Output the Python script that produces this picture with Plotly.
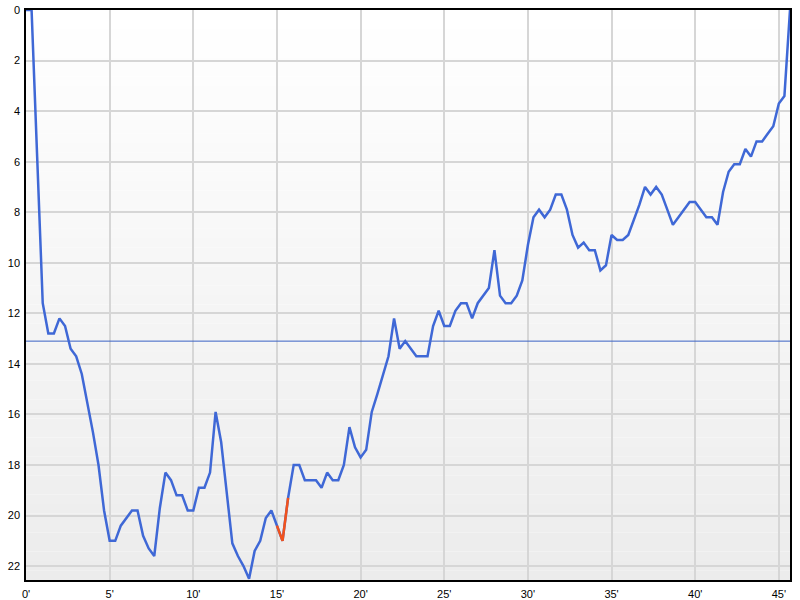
import plotly.graph_objects as go

# ---- data (one sample every 20 seconds, minutes) ----
values = [
    0, 0, 5.8, 11.6, 12.8, 12.8, 12.2, 12.5, 13.4, 13.7,
    14.4, 15.5, 16.7, 18.0, 19.8, 21.0, 21.0, 20.4, 20.1, 19.8,
    19.8, 20.8, 21.3, 21.6, 19.7, 18.3, 18.6, 19.2, 19.2, 19.8,
    19.8, 18.9, 18.9, 18.3, 15.9, 17.1, 19.1, 21.1, 21.6, 22.0,
    22.5, 21.4, 21.0, 20.1, 19.8, 20.4, 21.0, 19.3, 18.0, 18.0,
    18.6, 18.6, 18.6, 18.9, 18.3, 18.6, 18.6, 18.0, 16.5, 17.3,
    17.7, 17.4, 15.9, 15.2, 14.4, 13.7, 12.2, 13.4, 13.1, 13.4,
    13.7, 13.7, 13.7, 12.5, 11.9, 12.5, 12.5, 11.9, 11.6, 11.6,
    12.2, 11.6, 11.3, 11.0, 9.5, 11.3, 11.6, 11.6, 11.3, 10.7,
    9.3, 8.2, 7.9, 8.2, 7.9, 7.3, 7.3, 7.9, 8.9, 9.4,
    9.2, 9.5, 9.5, 10.3, 10.1, 8.9, 9.1, 9.1, 8.9, 8.3,
    7.7, 7.0, 7.3, 7.0, 7.3, 7.9, 8.5, 8.2, 7.9, 7.6,
    7.6, 7.9, 8.2, 8.2, 8.5, 7.2, 6.4, 6.1, 6.1, 5.5,
    5.8, 5.2, 5.2, 4.9, 4.6, 3.7, 3.4, 0,
]
minutes = [k / 3 for k in range(len(values))]

highlight_start = 45   # index of first highlighted sample
highlight_end = 47     # index of last highlighted sample

reference_level = 13.1

x_ticks = [0, 5, 10, 15, 20, 25, 30, 35, 40, 45]
x_tick_labels = ["0'", "5'", "10'", "15'", "20'", "25'", "30'", "35'", "40'", "45'"]
y_ticks = [0, 2, 4, 6, 8, 10, 12, 14, 16, 18, 20, 22]
y_max = 22.55

BLUE = "#3f68d6"
RED = "#f2521c"

fig = go.Figure()

# background gradient (white -> light gray), drawn below gridlines
n_bands = 60
for i in range(n_bands):
    f = i / (n_bands - 1)
    c = round(255 - f * (255 - 236))
    fig.add_shape(
        type="rect", xref="paper", yref="paper",
        x0=0, x1=1, y0=1 - (i + 1) / n_bands, y1=1 - i / n_bands,
        fillcolor=f"rgb({c},{c},{c})", line=dict(width=0), layer="below",
    )

fig.add_trace(go.Scatter(
    x=[minutes[0], minutes[-1]], y=[reference_level, reference_level],
    mode="lines", line=dict(color="#3a62c4", width=1), hoverinfo="skip",
))

fig.add_trace(go.Scatter(
    x=minutes, y=values, mode="lines",
    line=dict(color=BLUE, width=2.5),
))

fig.add_trace(go.Scatter(
    x=minutes[highlight_start:highlight_end + 1],
    y=values[highlight_start:highlight_end + 1],
    mode="lines", line=dict(color=RED, width=2.5),
))

fig.update_layout(
    width=800, height=600,
    margin=dict(l=26, r=10, t=10, b=20),
    paper_bgcolor="white", plot_bgcolor="white",
    showlegend=False,
    font=dict(family="Liberation Sans, Arial, sans-serif", size=11, color="black"),
)
fig.update_xaxes(
    range=[0, minutes[-1]], tickvals=x_ticks, ticktext=x_tick_labels,
    showgrid=True, gridcolor="#d6d6d6", gridwidth=1.5,
    zeroline=False, showline=True, linecolor="black", linewidth=1.5, mirror=True,
    ticks="", ticklabelstandoff=3, automargin=False,
)
fig.update_yaxes(
    range=[y_max, 0], tickvals=y_ticks,
    showgrid=True, gridcolor="#d6d6d6", gridwidth=1.5,
    zeroline=False, showline=True, linecolor="black", linewidth=1.5, mirror=True,
    ticks="", ticklabelstandoff=2, automargin=False,
)

fig.write_html(
    "out.html",
    config={"displayModeBar": False},
    post_script="document.body.style.margin='0';document.body.style.overflow='hidden';",
)
